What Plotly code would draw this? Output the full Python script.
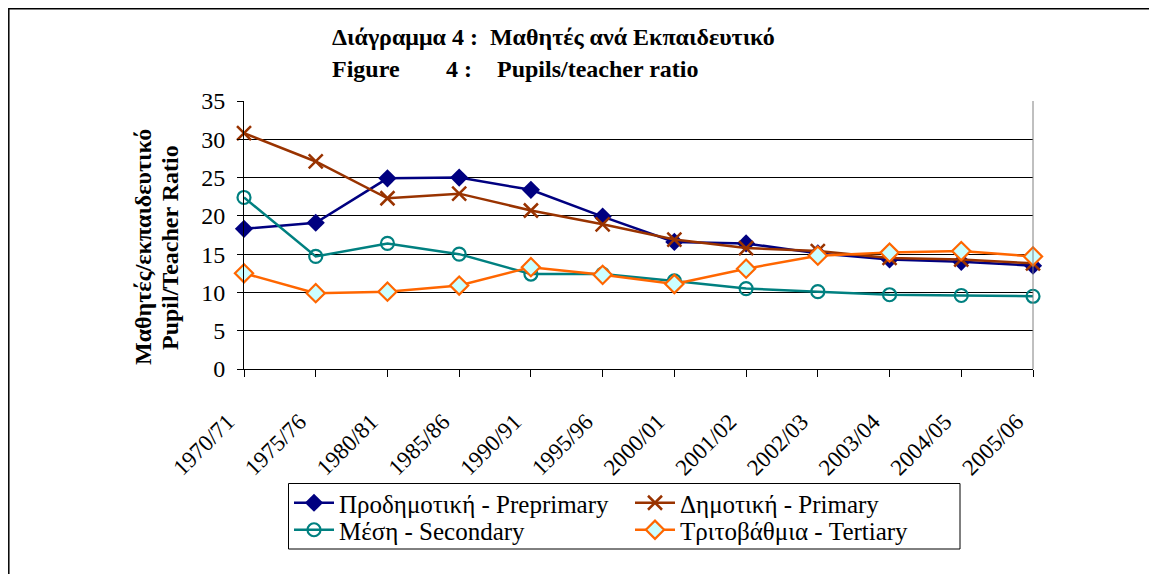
import plotly.graph_objects as go

years = ["1970/71", "1975/76", "1980/81", "1985/86", "1990/91", "1995/96",
         "2000/01", "2001/02", "2002/03", "2003/04", "2004/05", "2005/06"]
preprimary = [18.3, 19.1, 24.9, 25.0, 23.4, 19.9, 16.6, 16.4, 15.1, 14.3, 14.0, 13.5]
primary = [30.8, 27.1, 22.3, 22.9, 20.7, 18.9, 16.9, 15.8, 15.4, 14.5, 14.3, 13.8]
secondary = [22.4, 14.7, 16.4, 15.0, 12.4, 12.4, 11.5, 10.5, 10.1, 9.7, 9.6, 9.5]
tertiary = [12.5, 9.9, 10.1, 10.9, 13.3, 12.3, 11.1, 13.1, 14.8, 15.2, 15.4, 14.7]

names = ["Προδημοτική - Preprimary", "Δημοτική - Primary",
         "Μέση - Secondary", "Τριτοβάθμια - Tertiary"]

OFF = 8  # page body offset
W, H = 1157 - OFF, 574 - OFF
L, R, T, B = 244, 1033, 101, 369
pw, ph = R - L, B - T


def px(x):
    return (x - L) / pw


def py(y):
    return (B - y) / ph


FONT = "Liberation Serif"

fig = go.Figure()
fig.add_trace(go.Scatter(x=years, y=preprimary, name=names[0], mode="lines+markers",
                         line=dict(color="#000080", width=2.5), legend="legend",
                         marker=dict(symbol="diamond", size=14, color="#000080"),
                         cliponaxis=False))
fig.add_trace(go.Scatter(x=years, y=primary, name=names[1], mode="lines+markers",
                         line=dict(color="#993300", width=2.5), legend="legend",
                         marker=dict(symbol="x-thin", size=14,
                                     line=dict(color="#993300", width=2.5)),
                         cliponaxis=False))
fig.add_trace(go.Scatter(x=years, y=secondary, name=names[2], mode="lines+markers",
                         line=dict(color="#008080", width=2.5), legend="legend2",
                         marker=dict(symbol="circle-open", size=13, color="#008080",
                                     line=dict(color="#008080", width=2.2)),
                         cliponaxis=False))
fig.add_trace(go.Scatter(x=years, y=tertiary, name=names[3], mode="lines+markers",
                         line=dict(color="#FF6600", width=2.5), legend="legend2",
                         marker=dict(symbol="diamond", size=14, color="#CCFFFF",
                                     line=dict(color="#FF6600", width=2.2)),
                         cliponaxis=False))

leg_common = dict(orientation="h", xanchor="left", yanchor="middle",
                  borderwidth=0, bgcolor="rgba(0,0,0,0)",
                  font=dict(family=FONT, size=25, color="black"),
                  entrywidth=286, entrywidthmode="pixels",
                  tracegroupgap=0, itemwidth=40)

fig.update_layout(
    width=W, height=H,
    margin=dict(l=L - OFF, r=W - (R - OFF), t=T - OFF, b=H - (B - OFF), pad=0),
    paper_bgcolor="white", plot_bgcolor="white",
    font=dict(family=FONT, size=23, color="black"),
    showlegend=True,
    legend=dict(x=px(289), y=py(503), **leg_common),
    legend2=dict(x=px(289), y=py(530), **leg_common),
    xaxis=dict(type="category", range=[0, len(years) - 1], showgrid=False,
               showline=True, linecolor="black", linewidth=1,
               ticks="outside", ticklen=7, tickcolor="black",
               tickvals=years, ticktext=[y + "\u00a0" * 4 for y in years],
               tickangle=-45, tickfont=dict(family=FONT, size=23), zeroline=False,
               ticklabelstandoff=6, fixedrange=True),
    yaxis=dict(range=[0, 35], dtick=5, tick0=0, showgrid=True, gridcolor="black",
               gridwidth=1, showline=True, linecolor="black", linewidth=1,
               ticks="outside", ticklen=6, tickcolor="black", zeroline=False,
               ticklabelstandoff=7,
               tickfont=dict(family=FONT, size=24), fixedrange=True),
)

# outer chart border (left & top visible)
fig.add_shape(type="rect", xref="paper", yref="paper",
              x0=px(8.8), x1=px(1200), y0=py(620), y1=py(8.8),
              line=dict(color="black", width=1.5), fillcolor="rgba(0,0,0,0)", layer="below")
# right border of plot area
fig.add_shape(type="line", xref="paper", yref="paper", x0=1, x1=1, y0=0, y1=1,
              line=dict(color="#808080", width=1))
# legend box
fig.add_shape(type="rect", xref="paper", yref="paper",
              x0=px(288.5), x1=px(960), y0=py(549), y1=py(483.5),
              line=dict(color="black", width=1), fillcolor="rgba(0,0,0,0)", layer="below")

# titles
tfont = dict(family=FONT, size=24, color="black")
fig.add_annotation(text="<b>Διάγραμμα 4 :  Μαθητές ανά Εκπαιδευτικό</b>", xref="paper", yref="paper",
                   x=px(330), y=py(37), xanchor="left", yanchor="middle", showarrow=False, font=tfont)
fig.add_annotation(text="<b>Figure</b>", xref="paper", yref="paper",
                   x=px(330), y=py(69), xanchor="left", yanchor="middle", showarrow=False, font=tfont)
fig.add_annotation(text="<b>4 :</b>", xref="paper", yref="paper",
                   x=px(444), y=py(69), xanchor="left", yanchor="middle", showarrow=False, font=tfont)
fig.add_annotation(text="<b>Pupils/teacher ratio</b>", xref="paper", yref="paper",
                   x=px(495), y=py(69), xanchor="left", yanchor="middle", showarrow=False, font=tfont)

# y axis titles
fig.add_annotation(text="<b>Μαθητές/εκπαιδευτικό</b>", xref="paper", yref="paper",
                   x=px(143), y=py(247), xanchor="center", yanchor="middle", textangle=-90,
                   showarrow=False, font=tfont)
fig.add_annotation(text="<b>Pupil/Teacher Ratio</b>", xref="paper", yref="paper",
                   x=px(170), y=py(248), xanchor="center", yanchor="middle", textangle=-90,
                   showarrow=False, font=tfont)

fig.write_html("out.html")
